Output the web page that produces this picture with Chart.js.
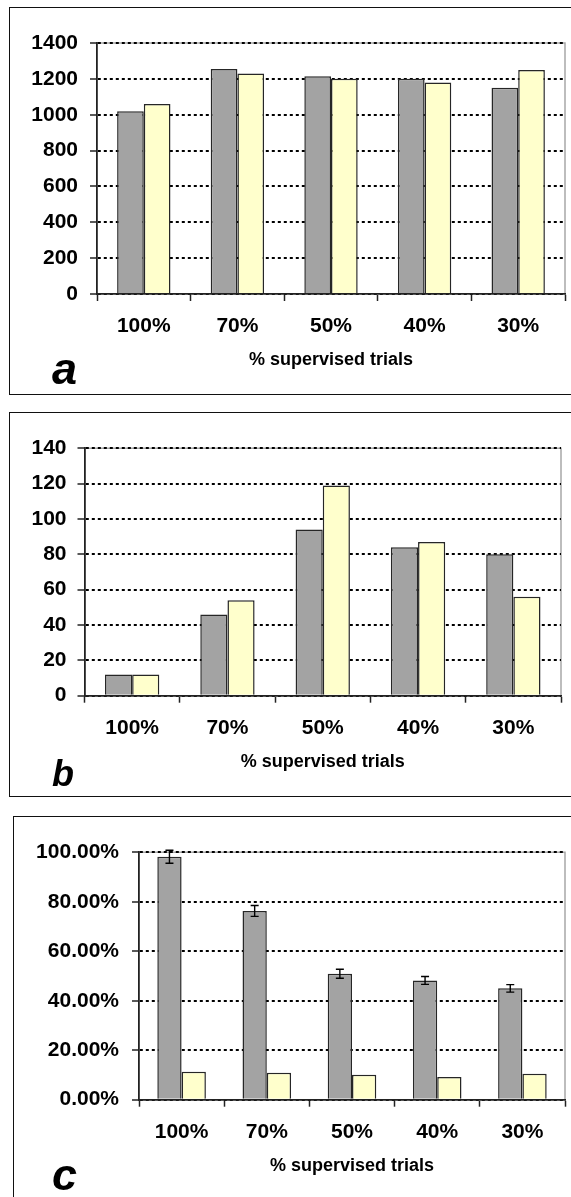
<!DOCTYPE html>
<html>
<head>
<meta charset="utf-8">
<script src="https://cdn.jsdelivr.net/npm/chart.js@4.4.1/dist/chart.umd.min.js"></script>
<style>
  html, body { margin: 0; padding: 0; background: #fff; }
  body { width: 571px; height: 1197px; position: relative; overflow: hidden; }
  .box { position: absolute; border: 1px solid #111; box-sizing: border-box; }
  canvas { position: absolute; left: 0; }
  .tag { position: absolute; font-family: "Liberation Sans", Arial, sans-serif; font-weight: bold;
         font-style: italic; line-height: 1; color: #000; margin: 0; }
</style>
</head>
<body>
<div class="box" style="left:9px;top:7px;width:575px;height:388px"></div>
<div class="box" style="left:9px;top:412px;width:575px;height:385px"></div>
<div class="box" style="left:13px;top:816px;width:575px;height:400px"></div>

<canvas id="panelA" width="571" height="400" style="top:0px"></canvas>
<canvas id="panelB" width="571" height="400" style="top:400px"></canvas>
<canvas id="panelC" width="571" height="397" style="top:800px"></canvas>

<div class="tag" style="left:52px;top:346px;font-size:45px">a</div>
<div class="tag" style="left:52px;top:756px;font-size:36px">b</div>
<div class="tag" style="left:52px;top:1152px;font-size:45px">c</div>

<script>
// Conditions on the horizontal axis
const categories = ['100%', '70%', '50%', '40%', '30%'];

// Panel a
const aGray   = [1020, 1255, 1215, 1200, 1150];
const aYellow = [1060, 1230, 1200, 1180, 1250];
const aTicks  = ['0', '200', '400', '600', '800', '1000', '1200', '1400'];

// Panel b
const bGray   = [12, 46, 94, 84, 80];
const bYellow = [12, 54, 119, 87, 56];
const bTicks  = ['0', '20', '40', '60', '80', '100', '120', '140'];

// Panel c (fractions, with error half-widths on the grey series)
const cGray    = [0.982, 0.763, 0.509, 0.482, 0.450];
const cGrayErr = [0.026, 0.022, 0.018, 0.016, 0.015];
const cYellow  = [0.113, 0.109, 0.101, 0.092, 0.105];
const cTicks   = ['0.00%', '20.00%', '40.00%', '60.00%', '80.00%', '100.00%'];

const AXIS_TITLE = '% supervised trials';
const FONT = '"Liberation Sans", Arial, Helvetica, sans-serif';

// Light grey frame along the top and right of the plot area
const plotFrame = {
  id: 'plotFrame',
  beforeDraw(chart) {
    const { ctx, chartArea: a } = chart;
    ctx.save();
    ctx.strokeStyle = '#a8a8a8';
    ctx.lineWidth = 1.5;
    ctx.beginPath();
    ctx.moveTo(a.left, a.top);
    ctx.lineTo(a.right, a.top);
    ctx.lineTo(a.right, a.bottom);
    ctx.stroke();
    ctx.restore();
  }
};

// Error bars on the first dataset, values taken from the plugin options
const errorBars = {
  id: 'errorBars',
  afterDatasetsDraw(chart, args, opts) {
    if (!opts || !opts.errors) return;
    const { ctx } = chart;
    const y = chart.scales.y;
    const meta = chart.getDatasetMeta(0);
    const values = chart.data.datasets[0].data;
    ctx.save();
    ctx.strokeStyle = '#000';
    ctx.lineWidth = 1.4;
    meta.data.forEach((bar, i) => {
      const v = values[i], e = opts.errors[i];
      const yt = y.getPixelForValue(v + e);
      const yb = y.getPixelForValue(v - e);
      const x = bar.x;
      ctx.beginPath();
      ctx.moveTo(x, yt); ctx.lineTo(x, yb);
      ctx.moveTo(x - 4, yt); ctx.lineTo(x + 4, yt);
      ctx.moveTo(x - 4, yb); ctx.lineTo(x + 4, yb);
      ctx.stroke();
    });
    ctx.restore();
  }
};

function makePanel(id, o) {
  const barStyle = { borderColor: '#262626', borderWidth: 1.5, categoryPercentage: 0.57, barPercentage: 1.0 };
  return new Chart(document.getElementById(id), {
    type: 'bar',
    data: {
      labels: categories,
      datasets: [
        Object.assign({ data: o.gray,   backgroundColor: '#a3a3a3' }, barStyle),
        Object.assign({ data: o.yellow, backgroundColor: '#ffffcc' }, barStyle)
      ]
    },
    options: {
      responsive: false,
      animation: false,
      devicePixelRatio: 1,
      layout: { padding: { left: 0, right: o.padR, top: o.padT, bottom: o.padB } },
      plugins: {
        legend: { display: false },
        tooltip: { enabled: false },
        errorBars: { errors: o.errors || null }
      },
      scales: {
        x: {
          grid: { offset: true, drawOnChartArea: false, drawTicks: true, tickLength: 7,
                  tickColor: '#222', tickWidth: 1.5 },
          border: { display: true, color: '#222', width: 1.8 },
          ticks: { font: { family: FONT, size: 21, weight: 'bold' }, color: '#000',
                   padding: 13, maxRotation: 0, autoSkip: false },
          title: { display: true, text: AXIS_TITLE, color: '#000',
                   font: { family: FONT, size: 18, weight: 'bold' },
                   padding: { top: 0, bottom: 3 } },
          afterFit: s => { s.height = 80; }
        },
        y: {
          min: o.min, max: o.max,
          ticks: { stepSize: o.step, callback: (v, i) => o.ticks[i],
                   font: { family: FONT, size: 21, weight: 'bold' }, color: '#000', padding: o.tickPad },
          grid: { color: '#000', lineWidth: 2, drawTicks: true, tickLength: 7,
                  tickColor: '#222', tickWidth: 1.5, tickBorderDash: [] },
          border: { display: true, color: '#222', width: 1.8, dash: [3, 3] },
          afterFit: s => { s.width = o.axisX; }
        }
      }
    },
    plugins: [plotFrame, errorBars]
  });
}

makePanel('panelA', { gray: aGray, yellow: aYellow, ticks: aTicks, min: 0, max: 1400, step: 200,
  axisX: 97, padR: 6, padT: 43, padB: 26, tickPad: 12 });
makePanel('panelB', { gray: bGray, yellow: bYellow, ticks: bTicks, min: 0, max: 140, step: 20,
  axisX: 84.5, padR: 10, padT: 48.3, padB: 24.3, tickPad: 11 });
makePanel('panelC', { gray: cGray, yellow: cYellow, errors: cGrayErr, ticks: cTicks, min: 0, max: 1, step: 0.2,
  axisX: 139, padR: 6, padT: 52.3, padB: 17.3, tickPad: 13 });
</script>
</body>
</html>
